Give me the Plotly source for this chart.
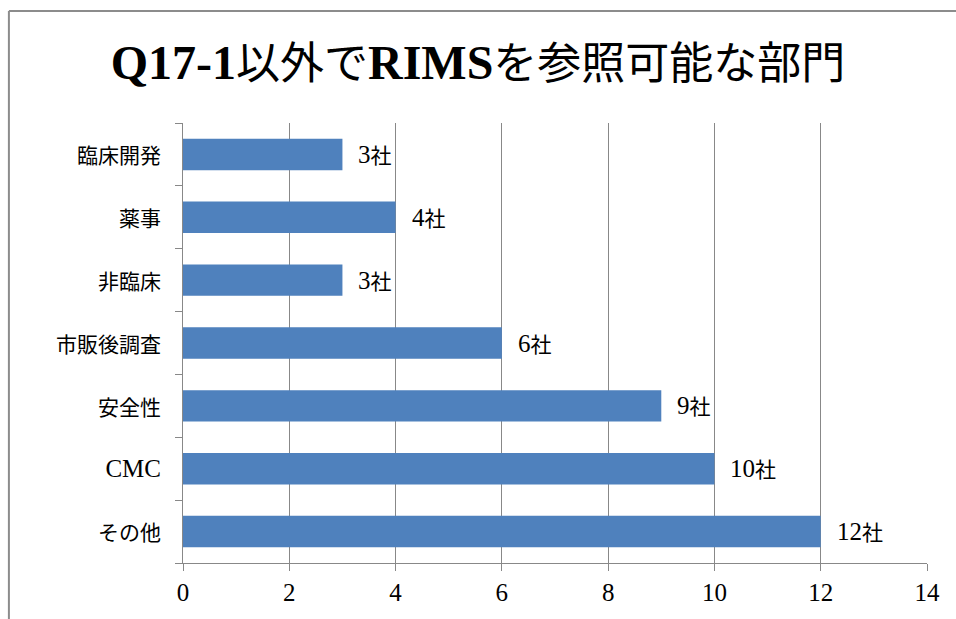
import plotly.graph_objects as go

categories = ["臨床開発", "薬事", "非臨床", "市販後調査", "安全性", "CMC", "その他"]
counts = [3, 4, 3, 6, 9, 10, 12]
x_ticks = [0, 2, 4, 6, 8, 10, 12, 14]

BAR = "#4F81BD"
GRID = "#888888"
FRAME = "#8C8C8C"
FONT = "Liberation Serif, Times New Roman, Noto Sans CJK JP, serif"
CJK = "font-size:21px"


def cjk(s):
    # Latin text stays larger than the CJK glyphs, as in the original
    return s if s.isascii() else f"<span style='{CJK}'>{s}</span>"


fig = go.Figure()
fig.add_trace(go.Bar(
    y=categories, x=counts, orientation="h",
    marker=dict(color=BAR, line=dict(width=0)),
    width=0.5, hoverinfo="skip",
))

for cat, v in zip(categories, counts):
    fig.add_annotation(
        x=v, y=cat, text=f"{v}{cjk('社')}", showarrow=False,
        xanchor="left", xshift=14,
        font=dict(family=FONT, size=25, color="#000000"),
    )

fig.update_layout(
    width=956, height=619,
    margin=dict(l=183, r=29, t=123, b=56),
    paper_bgcolor="white", plot_bgcolor="white",
    showlegend=False,
    font=dict(family=FONT, size=25, color="#000000"),
    title=dict(
        text="<b>Q17-1</b><span style='font-size:44px'>以外で</span><b>RIMS</b>"
             "<span style='font-size:44px'>を参照可能な部門</span>",
        x=0.5, xanchor="center", y=0.9, yanchor="middle",
        font=dict(family=FONT, size=48, color="#000000"),
    ),
    # chart frame: only its top and left edges fall inside the picture
    shapes=[
        dict(type="line", xref="paper", yref="paper",
             x0=-0.234, x1=1.2, y0=1.2545, y1=1.2545,
             line=dict(color=FRAME, width=2)),
        dict(type="line", xref="paper", yref="paper",
             x0=-0.234, x1=-0.234, y0=-0.3, y1=1.2545,
             line=dict(color=FRAME, width=2)),
    ],
)

fig.update_xaxes(
    range=[0, 14], tickvals=x_ticks,
    showgrid=True, gridcolor=GRID, gridwidth=1,
    showline=True, linecolor=GRID, linewidth=1,
    ticks="outside", ticklen=7, tickcolor=GRID,
    zeroline=False, fixedrange=True,
)
fig.update_yaxes(
    autorange="reversed", type="category",
    tickvals=categories, ticktext=[cjk(c) for c in categories],
    showgrid=False, showline=True, linecolor=GRID, linewidth=1,
    ticks="outside", ticklen=7, tickcolor=GRID, tickson="boundaries",
    ticklabelstandoff=16, fixedrange=True,
)

# drop the browser's default body margin so the figure fills the window
fig.write_html(
    "out.html",
    config={"displayModeBar": False},
    post_script="document.body.style.margin='0';document.body.style.overflow='hidden';",
)
